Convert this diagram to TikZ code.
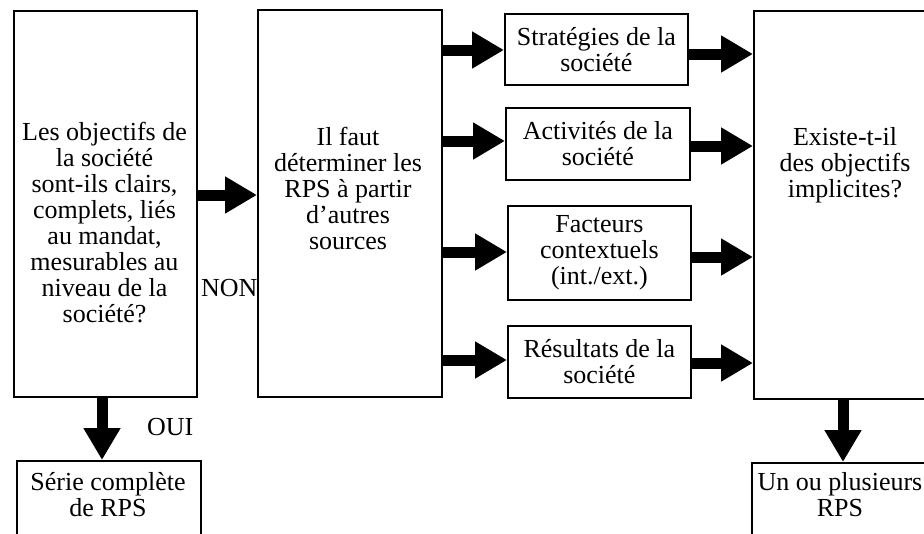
\documentclass[tikz,border=0pt]{standalone}
\usepackage{fontspec}
\setmainfont{Liberation Serif}
\usetikzlibrary{arrows.meta}
\begin{document}
\begin{tikzpicture}[x=1pt,y=-1pt,
  box/.style={draw,line width=1.8pt,inner sep=0pt,anchor=north west},
  txt/.style={align=center,font=\fontsize{26}{26}\selectfont,inner sep=0pt},
  arr/.style={line width=11pt,-{Triangle[length=32pt,width=35pt]}},
  lbl/.style={font=\fontsize{26}{26}\selectfont,inner sep=0pt}]
\useasboundingbox (0,0) rectangle (924,533);
\clip (0,0) rectangle (924,533);
% main boxes
\node[box,minimum width=183pt,minimum height=386pt] (q1) at (13,10) {};
\node[box,minimum width=184pt,minimum height=387pt] (mid) at (257,9) {};
\node[box,minimum width=190pt,minimum height=388pt] (rb) at (753,10) {};
\node[box,minimum width=184pt,minimum height=110pt] (b1) at (16,460) {};
\node[box,minimum width=190pt,minimum height=110pt] (b2) at (751,462) {};
% small boxes
\node[box,txt,minimum width=183pt,minimum height=71pt] (s1) at (504,13) {Stratégies de la\\société};
\node[box,txt,minimum width=184pt,minimum height=72pt] (s2) at (505,107) {Activités de la\\société};
\node[box,txt,minimum width=183pt,minimum height=94pt] (s3) at (507,205) {Facteurs\\contextuels\\(int./ext.)};
\node[box,txt,minimum width=183pt,minimum height=72pt] (s4) at (507,325) {Résultats de la\\société};
% texts
\node[txt] (t1) at (104.5,222.5) {Les objectifs de\\la société\\sont-ils clairs,\\complets, liés\\au mandat,\\mesurables au\\niveau de la\\société?};
\node[txt] (tm) at (348,188) {Il faut\\déterminer les\\RPS à partir\\d’autres\\sources};
\node[txt] (tr) at (845,165) {Existe-t-il\\des objectifs\\implicites?};
\node[txt] (tb1) at (108,495) {Série complète\\de RPS};
\node[txt] (tb2) at (840,495) {Un ou plusieurs\\RPS};
\node[lbl,anchor=base west] (non) at (201,296) {NON};
\node[lbl,anchor=base west] (oui) at (147,435) {OUI};
% arrows
\draw[arr] (q1.east |- 0,195) -- (mid.west |- 0,195);
\draw[arr] (q1.south -| 102,0) -- (b1.north -| 102,0);
\draw[arr] (mid.east |- 0,50) -- (s1.west |- 0,50);
\draw[arr] (mid.east |- 0,141) -- (s2.west |- 0,141);
\draw[arr] (mid.east |- 0,252) -- (s3.west |- 0,252);
\draw[arr] (mid.east |- 0,360) -- (s4.west |- 0,360);
\draw[arr] (s1.east |- 0,54) -- (rb.west |- 0,54);
\draw[arr] (s2.east |- 0,146) -- (rb.west |- 0,146);
\draw[arr] (s3.east |- 0,257) -- (rb.west |- 0,257);
\draw[arr] (s4.east |- 0,363) -- (rb.west |- 0,363);
\draw[arr] (rb.south -| 843,0) -- (b2.north -| 843,0);
\end{tikzpicture}
\end{document}
